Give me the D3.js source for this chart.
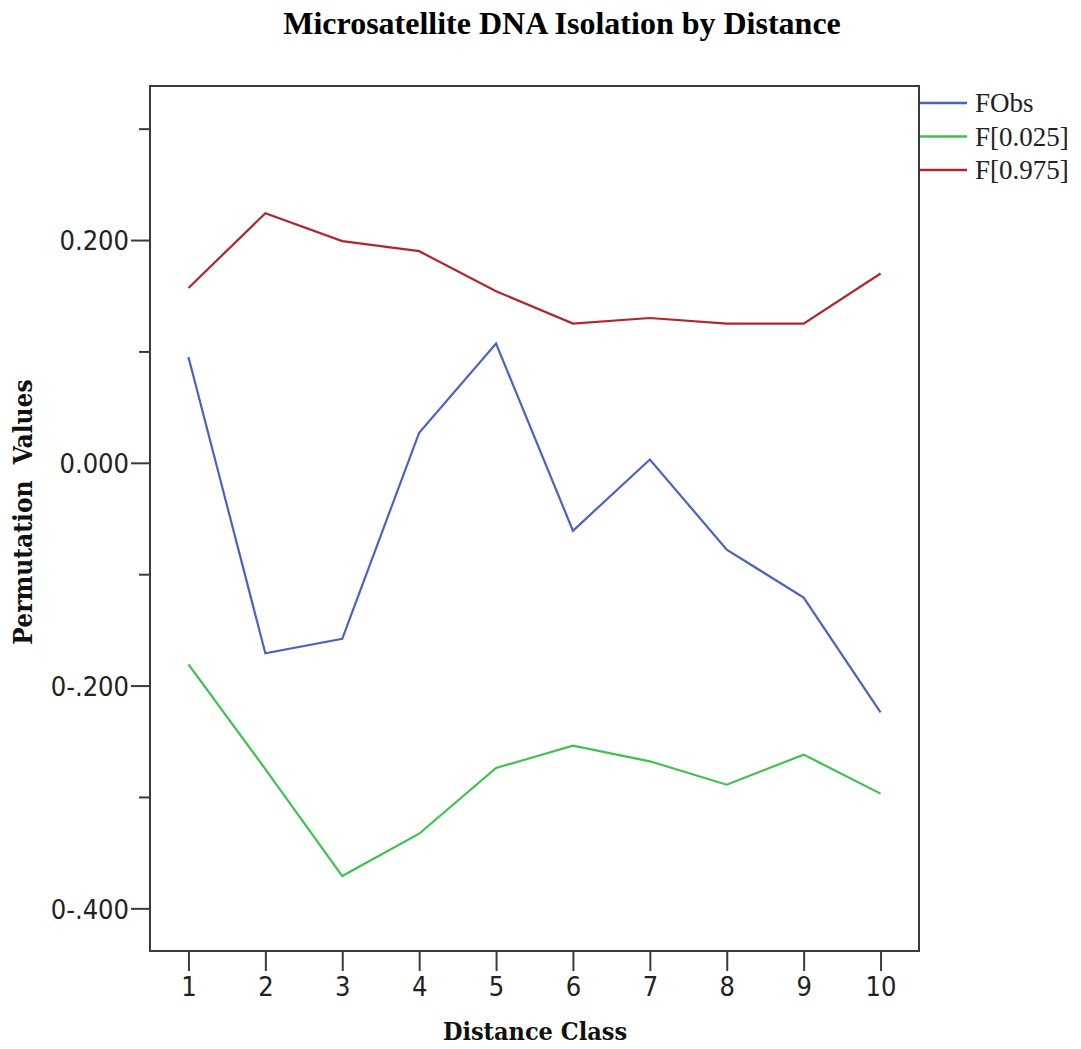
<!DOCTYPE html>
<html>
<head>
<meta charset="utf-8">
<script src="https://cdn.jsdelivr.net/npm/d3@7"></script>
<style>
  html, body { margin: 0; padding: 0; background: #fff; }
  svg { display: block; }
</style>
</head>
<body>
<svg id="chart" width="1081" height="1049"></svg>
<script>
// Distance classes along the x axis
const distanceClasses = [1, 2, 3, 4, 5, 6, 7, 8, 9, 10];

// Observed statistic and the permutation envelope (2.5% / 97.5%)
const fObs  = [0.095, -0.171, -0.158, 0.027, 0.107, -0.061, 0.003, -0.078, -0.121, -0.224];
const f025  = [-0.181, -0.275, -0.371, -0.333, -0.274, -0.254, -0.268, -0.289, -0.262, -0.297];
const f975  = [0.157, 0.224, 0.199, 0.190, 0.154, 0.125, 0.130, 0.125, 0.125, 0.170];

// Y ticks: labelled majors and unlabelled minors
const yMajorTicks = [0.2, 0.0, -0.2, -0.4];
const yMajorLabels = ["0.200", "0.000", "0-.200", "0-.400"];
const yMinorTicks = [0.3, 0.1, -0.1, -0.3];

const seriesNames = ["FObs", "F[0.025]", "F[0.975]"];
const seriesColors = ["#4a63c0", "#3dc24b", "#b0262f"];
const seriesValues = [fObs, f025, f975];

const svg = d3.select("#chart");
const frame = { left: 150, right: 919, top: 86, bottom: 951 };

const x = d3.scaleLinear().domain([0.5, 10.5]).range([frame.left, frame.right]);
const y = d3.scaleLinear().domain([-0.4383, 0.3383]).range([frame.bottom, frame.top]);

const tickFont = "'Liberation Sans Narrow', 'DejaVu Sans Condensed', sans-serif";
const serifFont = "'Liberation Serif', 'DejaVu Serif', serif";
const titleFont = "'DejaVu Serif Condensed', 'DejaVu Serif', serif";

// Title
svg.append("text")
  .attr("x", 562).attr("y", 34)
  .attr("text-anchor", "middle")
  .style("font-family", serifFont)
  .style("font-weight", "bold")
  .style("font-size", "32px")
  .attr("fill", "#000")
  .text("Microsatellite DNA Isolation by Distance");

// Frame around the plot area
svg.append("rect")
  .attr("x", frame.left).attr("y", frame.top)
  .attr("width", frame.right - frame.left)
  .attr("height", frame.bottom - frame.top)
  .attr("fill", "none")
  .attr("stroke", "#3a3a3a")
  .attr("stroke-width", 2);

// Y axis: majors with labels
const yAxisMajor = d3.axisLeft(y)
  .tickValues(yMajorTicks)
  .tickSize(19)
  .tickPadding(2)
  .tickFormat((d, i) => yMajorLabels[i]);
const gy = svg.append("g").attr("transform", `translate(${frame.left},0)`).call(yAxisMajor);
gy.select(".domain").remove();
gy.selectAll(".tick line").attr("stroke", "#3a3a3a").attr("stroke-width", 2);
gy.selectAll(".tick text")
  .style("font-family", tickFont)
  .style("font-size", "27px")
  .attr("fill", "#222")
  .attr("dy", "0.36em");

// Y axis: minor ticks
const yAxisMinor = d3.axisLeft(y).tickValues(yMinorTicks).tickSize(11).tickFormat("");
const gym = svg.append("g").attr("transform", `translate(${frame.left},0)`).call(yAxisMinor);
gym.select(".domain").remove();
gym.selectAll(".tick line").attr("stroke", "#3a3a3a").attr("stroke-width", 2);

// X axis
const xAxis = d3.axisBottom(x).tickValues(distanceClasses).tickSize(20).tickPadding(6).tickFormat(d3.format("d"));
const gx = svg.append("g").attr("transform", `translate(0,${frame.bottom})`).call(xAxis);
gx.select(".domain").remove();
gx.selectAll(".tick line").attr("stroke", "#3a3a3a").attr("stroke-width", 2);
gx.selectAll(".tick text")
  .style("font-family", tickFont)
  .style("font-size", "27px")
  .attr("fill", "#222");

// Axis titles
svg.append("text")
  .attr("x", 535).attr("y", 1040)
  .attr("text-anchor", "middle")
  .style("font-family", titleFont)
  .style("font-weight", "bold")
  .style("font-size", "25px")
  .attr("fill", "#111")
  .text("Distance Class");

svg.append("text")
  .attr("transform", "translate(32,512) rotate(-90)")
  .attr("text-anchor", "middle")
  .style("font-family", titleFont)
  .style("font-weight", "bold")
  .style("font-size", "26px")
  .style("white-space", "pre")
  .attr("xml:space", "preserve")
  .attr("fill", "#111")
  .text("Permutation  Values");

// Series lines
const line = d3.line()
  .x((d, i) => x(distanceClasses[i]))
  .y(d => y(d));

seriesValues.forEach((vals, i) => {
  svg.append("path")
    .datum(vals)
    .attr("d", line)
    .attr("fill", "none")
    .attr("stroke", seriesColors[i])
    .attr("stroke-width", 2.2)
    .attr("stroke-linejoin", "miter");
});

// Legend to the right of the frame
const legend = svg.append("g").attr("transform", "translate(920,103)");
seriesNames.forEach((name, i) => {
  const row = legend.append("g").attr("transform", `translate(0,${i * 33.5})`);
  row.append("line")
    .attr("x1", 0).attr("x2", 47)
    .attr("y1", 0).attr("y2", 0)
    .attr("stroke", seriesColors[i])
    .attr("stroke-width", 2.5);
  row.append("text")
    .attr("x", 55).attr("y", 0)
    .attr("dy", "0.35em")
    .style("font-family", serifFont)
    .style("font-size", "27px")
    .attr("fill", "#222")
    .text(name);
});
</script>
</body>
</html>
